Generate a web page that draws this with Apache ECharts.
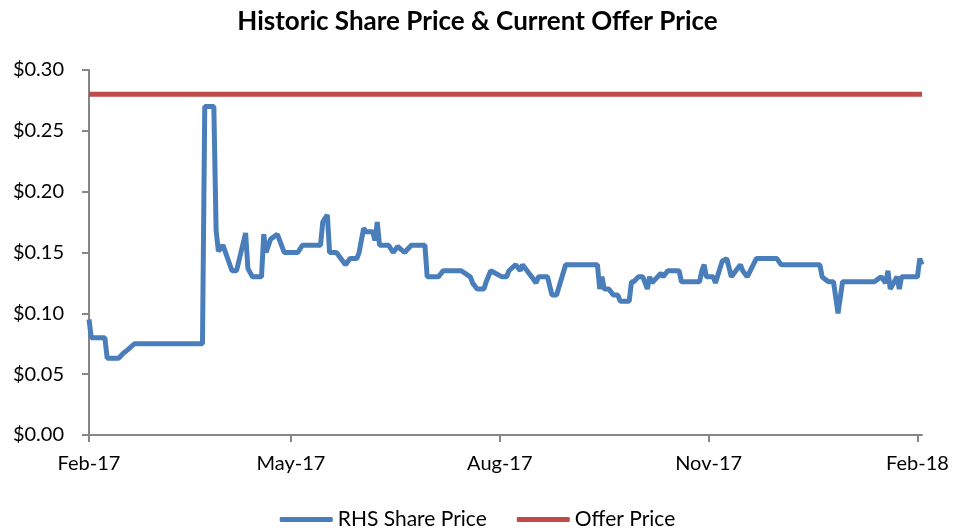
<!DOCTYPE html>
<html>
<head>
<meta charset="utf-8">
<script src="https://cdn.jsdelivr.net/npm/echarts@6/dist/echarts.min.js"></script>
<style>
  html, body { margin: 0; padding: 0; background: #fff; }
  #chart { width: 955px; height: 528px; }
</style>
</head>
<body>
<div id="chart"></div>
<script>
// RHS share price
const shareDates = [
  '2017-02-01','2017-02-02','2017-02-08','2017-02-09','2017-02-14','2017-02-16','2017-02-18','2017-02-21',
  '2017-03-23','2017-03-24','2017-03-28','2017-03-29','2017-03-30','2017-04-01','2017-04-05','2017-04-07',
  '2017-04-11','2017-04-12','2017-04-14','2017-04-18','2017-04-19','2017-04-20','2017-04-22','2017-04-25',
  '2017-04-27','2017-04-28','2017-05-04','2017-05-06','2017-05-14','2017-05-15','2017-05-17','2017-05-18',
  '2017-05-21','2017-05-25','2017-05-27','2017-05-30','2017-05-31','2017-06-02','2017-06-03','2017-06-06',
  '2017-06-07','2017-06-08','2017-06-09','2017-06-13','2017-06-15','2017-06-17','2017-06-20','2017-06-23',
  '2017-06-29','2017-06-30','2017-07-05','2017-07-07','2017-07-15','2017-07-19','2017-07-20','2017-07-22',
  '2017-07-25','2017-07-26','2017-07-28','2017-08-02','2017-08-04','2017-08-05','2017-08-08','2017-08-10',
  '2017-08-11','2017-08-15','2017-08-17','2017-08-18','2017-08-22','2017-08-24','2017-08-26','2017-08-30',
  '2017-09-13','2017-09-14','2017-09-15','2017-09-16','2017-09-18','2017-09-20','2017-09-22','2017-09-23',
  '2017-09-27','2017-09-28','2017-09-29','2017-10-01','2017-10-03','2017-10-05','2017-10-06','2017-10-07',
  '2017-10-11','2017-10-12','2017-10-14','2017-10-19','2017-10-20','2017-10-28','2017-10-29','2017-10-30',
  '2017-10-31','2017-11-03','2017-11-04','2017-11-07','2017-11-09','2017-11-11','2017-11-15','2017-11-16',
  '2017-11-18','2017-11-22','2017-12-01','2017-12-03','2017-12-20','2017-12-21','2017-12-23','2017-12-24',
  '2017-12-26','2017-12-28','2017-12-30','2018-01-13','2018-01-16','2018-01-18','2018-01-19','2018-01-20',
  '2018-01-23','2018-01-24','2018-01-25','2018-02-01','2018-02-02','2018-02-03'
];
const sharePrices = [
  0.095,0.08,0.08,0.063,0.063,0.067,0.07,0.075,
  0.075,0.27,0.27,0.168,0.151,0.156,0.135,0.135,
  0.166,0.137,0.13,0.13,0.165,0.15,0.161,0.165,
  0.155,0.15,0.15,0.156,0.156,0.175,0.181,0.15,
  0.15,0.14,0.145,0.145,0.15,0.17,0.167,0.167,
  0.16,0.175,0.156,0.156,0.15,0.155,0.15,0.156,
  0.156,0.13,0.13,0.135,0.135,0.13,0.125,0.12,
  0.12,0.126,0.135,0.13,0.13,0.135,0.14,0.135,
  0.14,0.13,0.125,0.13,0.13,0.115,0.115,0.14,
  0.14,0.12,0.13,0.12,0.12,0.115,0.115,0.11,
  0.11,0.126,0.126,0.13,0.13,0.12,0.13,0.125,
  0.133,0.13,0.135,0.135,0.126,0.126,0.135,0.14,
  0.13,0.13,0.125,0.143,0.145,0.13,0.14,0.135,
  0.13,0.145,0.145,0.14,0.14,0.13,0.127,0.126,
  0.126,0.10,0.126,0.126,0.13,0.125,0.135,0.12,
  0.13,0.12,0.13,0.13,0.145,0.14
];
// offer price
const offerDates = ['2017-02-01', '2018-02-03'];
const offerPrices = [0.28, 0.28];
// x-axis tick positions
const tickDates = ['2017-02-01', '2017-05-01', '2017-08-01', '2017-11-01', '2018-02-01'];
const monthNames = ['Jan','Feb','Mar','Apr','May','Jun','Jul','Aug','Sep','Oct','Nov','Dec'];

function toTime(s) {
  const p = s.split('-');
  return +new Date(+p[0], +p[1] - 1, +p[2]);
}

const font = 'Lato';
const axisColor = '#868686';

const chart = echarts.init(document.getElementById('chart'));
chart.setOption({
  animation: false,
  title: {
    text: 'Historic Share Price & Current Offer Price',
    left: 'center',
    top: 4,
    textStyle: { fontFamily: font, fontSize: 26, fontWeight: 'bold', color: '#000' }
  },
  legend: {
    top: 504,
    left: 'center',
    icon: 'roundRect',
    itemWidth: 53,
    itemHeight: 5,
    itemGap: 30,
    textStyle: { fontFamily: font, fontSize: 21, color: '#000' },
    data: ['RHS Share Price', 'Offer Price']
  },
  grid: { left: 89, right: 33, top: 70, bottom: 93 },
  xAxis: {
    type: 'value',
    min: toTime(offerDates[0]),
    max: toTime(offerDates[1]),
    axisLine: { lineStyle: { color: axisColor, width: 2 } },
    axisTick: { show: true, length: 7, lineStyle: { color: axisColor, width: 2 }, customValues: tickDates.map(toTime) },
    axisLabel: {
      customValues: tickDates.map(toTime),
      margin: 19,
      fontFamily: font, fontSize: 20, color: '#000',
      formatter: function (v) {
        const d = new Date(v);
        return monthNames[d.getMonth()] + '-' + String(d.getFullYear()).slice(2);
      }
    },
    splitLine: { show: false }
  },
  yAxis: {
    type: 'value',
    min: 0,
    max: 0.3,
    interval: 0.05,
    axisLine: { show: true, lineStyle: { color: axisColor, width: 2 } },
    axisTick: { show: true, length: 7, lineStyle: { color: axisColor, width: 2 } },
    axisLabel: {
      margin: 25,
      fontFamily: font, fontSize: 20, color: '#000',
      formatter: function (v) { return '$' + v.toFixed(2); }
    },
    splitLine: { show: false }
  },
  series: [
    {
      name: 'RHS Share Price',
      type: 'line',
      showSymbol: false,
      color: '#4a7ebb',
      lineStyle: { width: 5, color: '#4a7ebb' },
      data: shareDates.map(function (d, i) { return [toTime(d), sharePrices[i]]; })
    },
    {
      name: 'Offer Price',
      type: 'line',
      showSymbol: false,
      color: '#be4b48',
      lineStyle: { width: 5, color: '#be4b48' },
      data: offerDates.map(function (d, i) { return [toTime(d), offerPrices[i]]; })
    }
  ]
});
</script>
</body>
</html>
